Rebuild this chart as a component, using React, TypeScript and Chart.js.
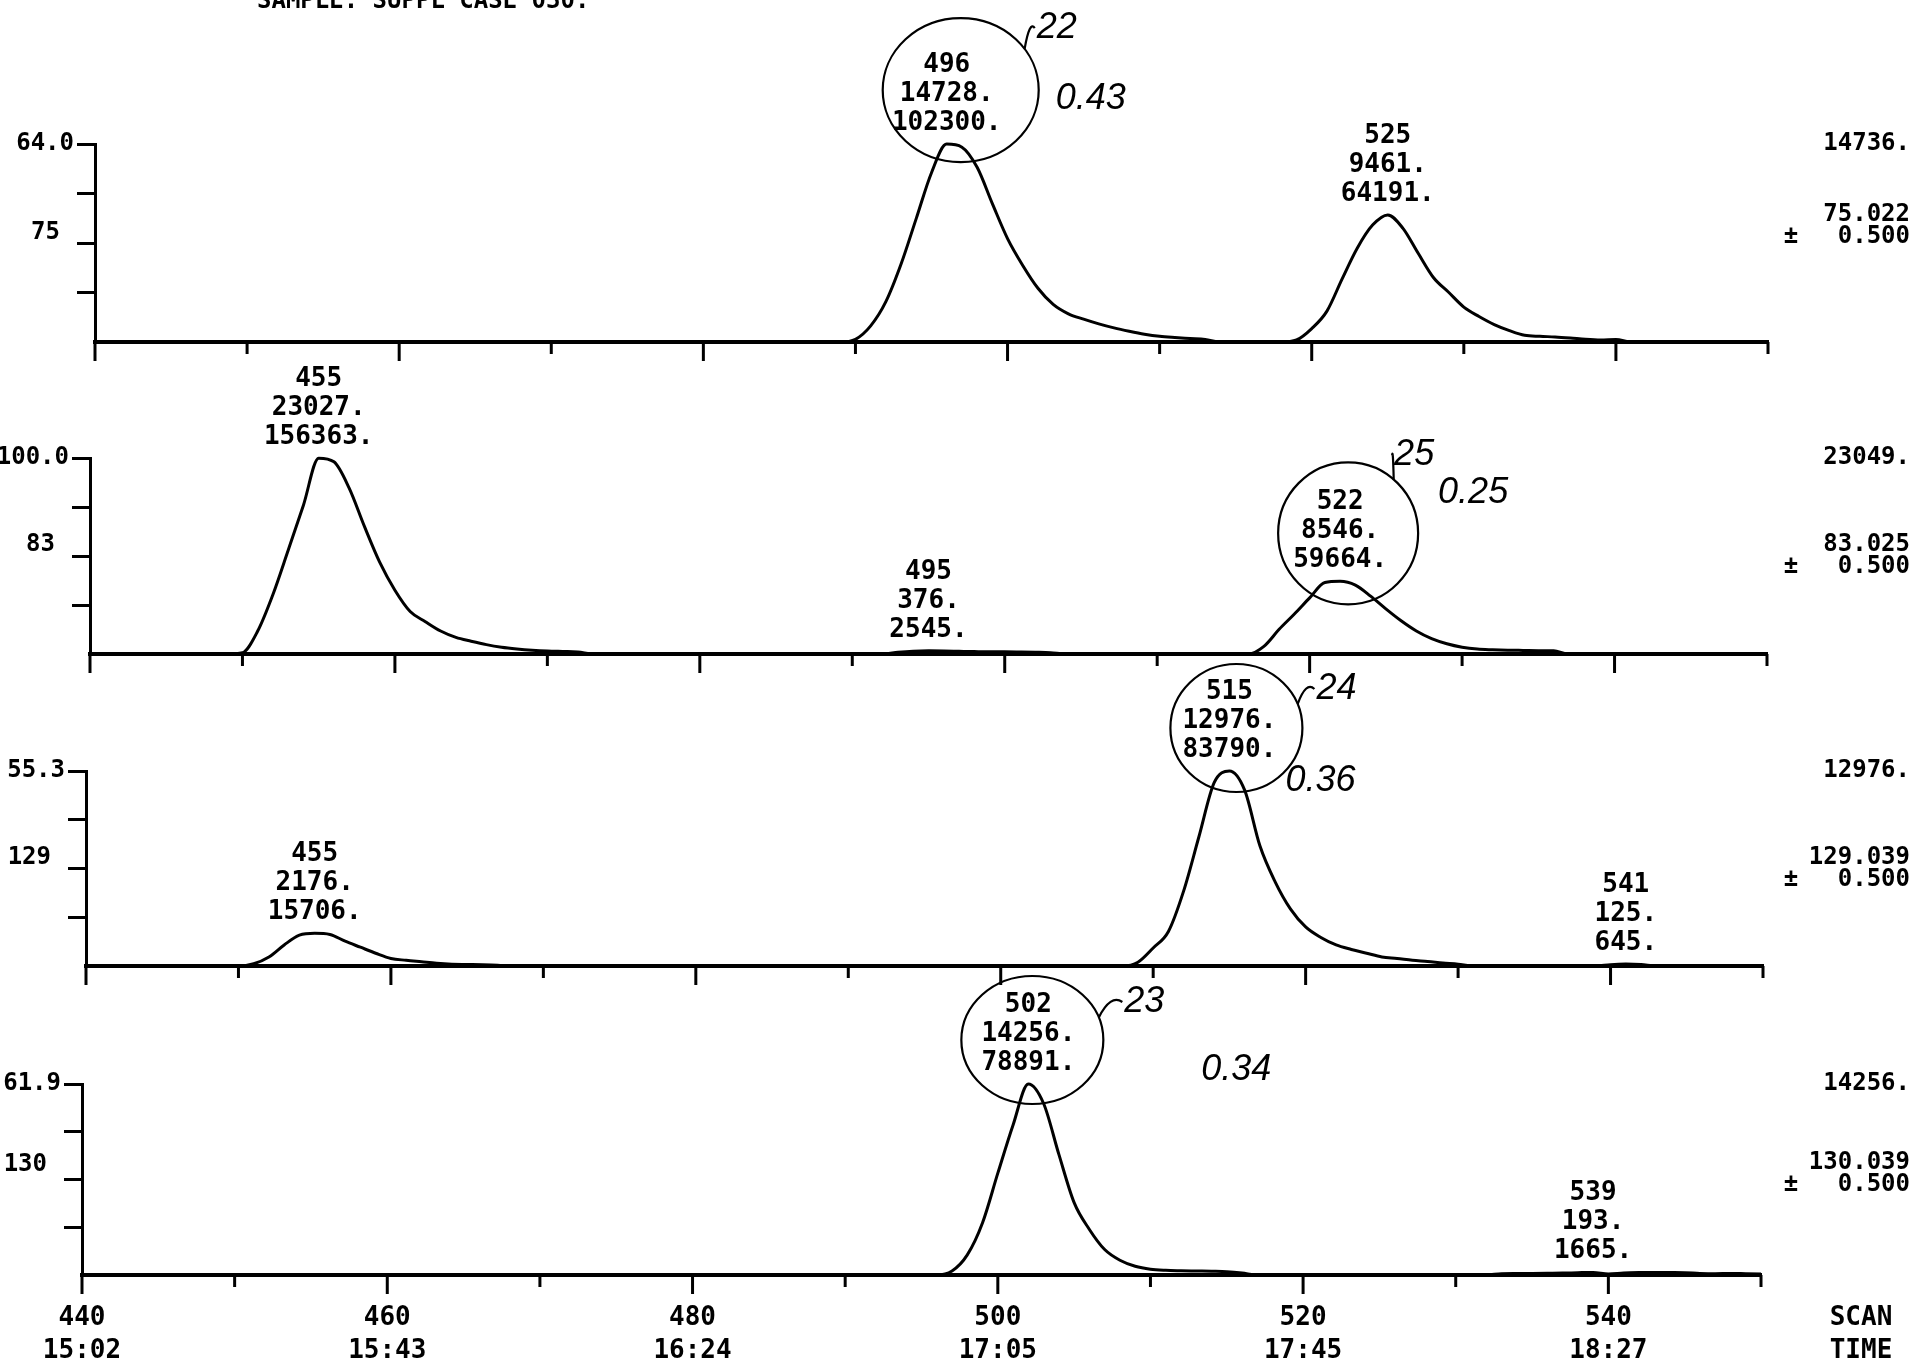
import React, { useEffect, useRef } from 'react';
import { Chart, registerables } from 'chart.js';

Chart.register(...registerables);

const PAGE_W = 1917;
const PAGE_H = 1371;

// ---- scan axis ----
const SCAN_MIN = 440;
const SCAN_MAX = 550;
const scanTicks = [440, 450, 460, 470, 480, 490, 500, 510, 520, 530, 540, 550];
const labelledScans = [440, 460, 480, 500, 520, 540];
const scanTimes = ['15:02', '15:43', '16:24', '17:05', '17:45', '18:27'];
const axisTitle = ['SCAN', 'TIME'];
const sampleTitle = 'SAMPLE: SUPPL CASE 030.';

// ---- m/z 75 ----
const ion75Scans = [440, 489, 490, 491, 492, 493, 494, 495, 496, 497, 498, 499, 500, 501, 502, 503, 504, 505, 506, 507, 508, 509, 510, 511, 512, 513, 514, 518, 519, 520, 521, 522, 523, 524, 525, 526, 527, 528, 529, 530, 531, 532, 533, 534, 535, 536, 537, 538, 539, 540, 541, 550];
const ion75Values = [0, 0, 200, 1200, 3000, 5800, 9200, 12600, 14728, 14500, 13000, 10300, 7700, 5700, 4000, 2800, 2100, 1700, 1350, 1050, 800, 580, 420, 330, 260, 190, 0, 0, 150, 1000, 2300, 4700, 7000, 8700, 9461, 8460, 6600, 4800, 3700, 2600, 1900, 1300, 850, 500, 420, 380, 300, 200, 150, 180, 0, 0];
const ion75FullScale = 14736;
const ion75Percent = '64.0';
const ion75Mass = '75';
const ion75Exact = '75.022';
const ion75PeakScans = [496, 525];
const ion75PeakHeights = [14728, 9461];
const ion75PeakAreas = [102300, 64191];

// ---- m/z 83 ----
const ion83Scans = [440, 449, 450, 451, 452, 453, 454, 455, 456, 457, 458, 459, 460, 461, 462, 463, 464, 465, 466, 467, 468, 469, 470, 471, 472, 473, 492, 493, 494, 495, 496, 497, 498, 499, 500, 501, 502, 503, 504, 516, 517, 518, 519, 520, 521, 522, 523, 524, 525, 526, 527, 528, 529, 530, 531, 532, 533, 534, 535, 536, 537, 550];
const ion83Values = [0, 0, 150, 2700, 7000, 12200, 17500, 23027, 22600, 19500, 15000, 10800, 7500, 5000, 3800, 2700, 1950, 1500, 1100, 800, 600, 450, 350, 300, 250, 0, 0, 200, 330, 376, 360, 320, 280, 250, 250, 230, 200, 150, 0, 0, 900, 2900, 4700, 6600, 8400, 8546, 8100, 6800, 5300, 3900, 2700, 1800, 1200, 800, 580, 500, 450, 420, 390, 370, 0, 0];
const ion83FullScale = 23049;
const ion83Percent = '100.0';
const ion83Mass = '83';
const ion83Exact = '83.025';
const ion83PeakScans = [455, 495, 522];
const ion83PeakHeights = [23027, 376, 8546];
const ion83PeakAreas = [156363, 2545, 59664];

// ---- m/z 129 ----
const ion129Scans = [440, 450, 451, 452, 453, 454, 455, 456, 457, 458, 459, 460, 461, 462, 463, 464, 465, 466, 467, 468, 508, 509, 510, 511, 512, 513, 514, 515, 516, 517, 518, 519, 520, 521, 522, 523, 524, 525, 526, 527, 528, 529, 530, 531, 539, 540, 541, 542, 543, 550];
const ion129Values = [0, 0, 150, 600, 1400, 2050, 2176, 2100, 1650, 1250, 850, 500, 380, 280, 180, 120, 100, 80, 50, 0, 0, 250, 1200, 2300, 5000, 8600, 12200, 12976, 11700, 8000, 5600, 3800, 2600, 1900, 1400, 1100, 850, 600, 500, 380, 300, 200, 120, 0, 0, 90, 125, 100, 0, 0];
const ion129FullScale = 12976;
const ion129Percent = '55.3';
const ion129Mass = '129';
const ion129Exact = '129.039';
const ion129PeakScans = [455, 515, 541];
const ion129PeakHeights = [2176, 12976, 125];
const ion129PeakAreas = [15706, 83790, 645];

// ---- m/z 130 ----
const ion130Scans = [440, 496, 497, 498, 499, 500, 501, 502, 503, 504, 505, 506, 507, 508, 509, 510, 511, 512, 513, 514, 515, 516, 517, 532, 533, 534, 535, 536, 537, 538, 539, 540, 541, 542, 543, 544, 545, 546, 547, 548, 549, 550];
const ion130Values = [0, 0, 300, 1500, 3900, 7600, 11200, 14256, 12800, 9000, 5400, 3400, 1900, 1100, 650, 430, 350, 320, 300, 280, 250, 150, 0, 0, 100, 110, 120, 130, 140, 170, 193, 80, 150, 180, 190, 180, 170, 120, 100, 120, 100, 80];
const ion130FullScale = 14256;
const ion130Percent = '61.9';
const ion130Mass = '130';
const ion130Exact = '130.039';
const ion130PeakScans = [502, 539];
const ion130PeakHeights = [14256, 193];
const ion130PeakAreas = [78891, 1665];

const massWindow = '0.500';

// handwritten notes: circled peak, number, ratio
const circledPeaks = [496, 522, 515, 502];
const noteNumbers = ['22', '25', '24', '23'];
const noteRatios = ['0.43', '0.25', '0.36', '0.34'];

const MONO = "'DejaVu Sans Mono', 'Liberation Mono', monospace";
const HAND = "italic 36px 'Liberation Sans', 'DejaVu Sans', sans-serif";

const panels = [
  {
    scans: ion75Scans, values: ion75Values, max: ion75FullScale, pct: ion75Percent, mass: ion75Mass, exact: ion75Exact,
    peakScans: ion75PeakScans, peakHeights: ion75PeakHeights, peakAreas: ion75PeakAreas,
    box: { left: 95, right: 1768, top: 144, bottom: 342 },
    massY: 89, exactY: 71, winY: 93, rx: 78, ry: 72, cdx: 6, cdy: -6, numOff: [96, -62], ratioOff: [130, 9],
  },
  {
    scans: ion83Scans, values: ion83Values, max: ion83FullScale, pct: ion83Percent, mass: ion83Mass, exact: ion83Exact,
    peakScans: ion83PeakScans, peakHeights: ion83PeakHeights, peakAreas: ion83PeakAreas,
    box: { left: 90, right: 1767, top: 458, bottom: 654 },
    massY: 87, exactY: 87, winY: 109, rx: 70, ry: 71, cdx: 0, cdy: 0, numOff: [66, -78], ratioOff: [125, -40],
  },
  {
    scans: ion129Scans, values: ion129Values, max: ion129FullScale, pct: ion129Percent, mass: ion129Mass, exact: ion129Exact,
    peakScans: ion129PeakScans, peakHeights: ion129PeakHeights, peakAreas: ion129PeakAreas,
    box: { left: 86, right: 1763, top: 771, bottom: 966 },
    massY: 87, exactY: 87, winY: 109, rx: 66, ry: 64, cdx: -1, cdy: 5, numOff: [100, -39], ratioOff: [84, 53],
  },
  {
    scans: ion130Scans, values: ion130Values, max: ion130FullScale, pct: ion130Percent, mass: ion130Mass, exact: ion130Exact,
    peakScans: ion130PeakScans, peakHeights: ion130PeakHeights, peakAreas: ion130PeakAreas,
    box: { left: 82, right: 1761, top: 1084, bottom: 1275 },
    massY: 81, exactY: 79, winY: 101, rx: 71, ry: 64, cdx: -4, cdy: 4, numOff: [112, -38], ratioOff: [204, 30],
  },
];

const decorPlugin = {
  id: 'panelDecor',
  afterDraw(chart: any, _args: any, opts: any) {
    const p = opts.panel;
    const idx = opts.index;
    if (!p) return;
    const { ctx, chartArea: a } = chart;
    const xs = chart.scales.x;
    const ys = chart.scales.y;
    ctx.save();
    ctx.strokeStyle = '#000';
    ctx.fillStyle = '#000';
    ctx.lineCap = 'butt';

    // scan tick marks below the baseline
    ctx.lineWidth = 3;
    for (const v of scanTicks) {
      const px = xs.getPixelForValue(v);
      const len = (v - SCAN_MIN) % 20 === 0 ? 19 : 12;
      ctx.beginPath();
      ctx.moveTo(px, a.bottom);
      ctx.lineTo(px, a.bottom + len);
      ctx.stroke();
    }

    ctx.textBaseline = 'middle';

    // peak annotations (scan, height, area)
    ctx.font = `bold 26px ${MONO}`;
    ctx.textAlign = 'center';
    p.peakScans.forEach((s: number, i: number) => {
      const x = xs.getPixelForValue(s);
      const yA = ys.getPixelForValue(p.peakHeights[i]);
      const lines = [String(s), `${p.peakHeights[i]}.`, `${p.peakAreas[i]}.`];
      lines.forEach((t, j) => ctx.fillText(t, x, yA - 21 - (2 - j) * 29));
    });

    // right-hand labels
    ctx.font = `bold 24px ${MONO}`;
    ctx.textAlign = 'right';
    ctx.fillText(`${p.max}.`, 1910, a.top);
    ctx.fillText(p.exact, 1910, a.top + p.exactY);
    ctx.fillText(massWindow, 1910, a.top + p.winY);
    ctx.textAlign = 'center';
    ctx.fillText('\u00B1', 1791, a.top + p.winY);

    // left mass label
    ctx.textAlign = 'right';
    ctx.fillText(p.mass, a.left - 35, a.top + p.massY);

    // handwritten circle + notes
    const cs = circledPeaks[idx];
    const ci = p.peakScans.indexOf(cs);
    if (ci >= 0) {
      const cx = xs.getPixelForValue(cs) + 8 + p.cdx;
      const cy = ys.getPixelForValue(p.peakHeights[ci]) - 21 - 29 + 2 + p.cdy;
      ctx.lineWidth = 2.2;
      ctx.beginPath();
      ctx.ellipse(cx, cy, p.rx, p.ry, 0, 0, Math.PI * 2);
      ctx.stroke();
      const nx = cx + p.numOff[0];
      const ny = cy + p.numOff[1];
      const ang = Math.atan2((ny - cy) / p.ry, (nx - cx) / p.rx);
      const sx = cx + p.rx * Math.cos(ang);
      const sy = cy + p.ry * Math.sin(ang);
      ctx.beginPath();
      ctx.moveTo(sx, sy);
      ctx.quadraticCurveTo((sx + nx - 22) / 2, Math.min(sy, ny) - 8, nx - 22, ny);
      ctx.stroke();
      ctx.font = HAND;
      ctx.textAlign = 'center';
      ctx.fillText(noteNumbers[idx], nx, ny);
      ctx.fillText(noteRatios[idx], cx + p.ratioOff[0], cy + p.ratioOff[1]);
    }

    if (idx === 0) {
      ctx.font = `bold 24px ${MONO}`;
      ctx.textAlign = 'left';
      ctx.textBaseline = 'alphabetic';
      ctx.fillText(sampleTitle, 257, 8);
    }
    if (idx === panels.length - 1) {
      ctx.font = `bold 26px ${MONO}`;
      ctx.textAlign = 'center';
      ctx.textBaseline = 'middle';
      labelledScans.forEach((v, k) => {
        const px = xs.getPixelForValue(v);
        ctx.fillText(String(v), px, a.bottom + 43);
        ctx.fillText(scanTimes[k], px, a.bottom + 76);
      });
      ctx.fillText(axisTitle[0], 1861, a.bottom + 43);
      ctx.fillText(axisTitle[1], 1861, a.bottom + 76);
    }
    ctx.restore();
  },
};

function makeConfig(p: any, idx: number): any {
  return {
    type: 'line',
    data: {
      datasets: [
        {
          data: p.scans.map((s: number, i: number) => ({ x: s, y: p.values[i] })),
          borderColor: '#000',
          borderWidth: 3,
          pointRadius: 0,
          fill: false,
          cubicInterpolationMode: 'monotone',
          clip: false,
        },
      ],
    },
    options: {
      animation: false,
      responsive: false,
      events: [],
      layout: {
        padding: { left: 0, right: PAGE_W - p.box.right, top: p.box.top, bottom: PAGE_H - p.box.bottom },
      },
      plugins: {
        legend: { display: false },
        tooltip: { enabled: false },
        panelDecor: { panel: p, index: idx },
      },
      scales: {
        x: {
          type: 'linear',
          min: SCAN_MIN,
          max: SCAN_MAX,
          afterBuildTicks: (s: any) => {
            s.ticks = scanTicks.map((v) => ({ value: v }));
          },
          afterFit: (s: any) => {
            s.height = 0;
          },
          grid: { display: false, drawTicks: false },
          border: { display: true, color: '#000', width: 4 },
          ticks: { display: false },
        },
        y: {
          type: 'linear',
          min: 0,
          max: p.max,
          afterBuildTicks: (s: any) => {
            s.ticks = [0.25, 0.5, 0.75, 1].map((f) => ({ value: f * p.max }));
          },
          afterFit: (s: any) => {
            s.width = p.box.left;
          },
          grid: { drawOnChartArea: false, drawTicks: true, tickLength: 18, tickWidth: 3, tickColor: '#000' },
          border: { display: true, color: '#000', width: 3 },
          ticks: {
            padding: 3,
            color: '#000',
            autoSkip: false,
            font: { family: MONO, size: 24, weight: 'bold' },
            callback: (v: number) => (Math.abs(v - p.max) < 1e-6 ? p.pct : ''),
          },
        },
      },
    },
    plugins: [decorPlugin],
  };
}

export default function App() {
  const refs = useRef<(HTMLCanvasElement | null)[]>([]);
  useEffect(() => {
    const charts = panels.map((p, i) => new Chart(refs.current[i] as HTMLCanvasElement, makeConfig(p, i)));
    return () => charts.forEach((c) => c.destroy());
  }, []);
  return (
    <div style={{ position: 'absolute', left: 0, top: 0, width: PAGE_W, height: PAGE_H, background: '#fff', overflow: 'hidden' }}>
      {panels.map((_, i) => (
        <canvas
          key={i}
          ref={(el) => {
            refs.current[i] = el;
          }}
          width={PAGE_W}
          height={PAGE_H}
          style={{ position: 'absolute', left: 0, top: 0, width: PAGE_W, height: PAGE_H }}
        />
      ))}
    </div>
  );
}
